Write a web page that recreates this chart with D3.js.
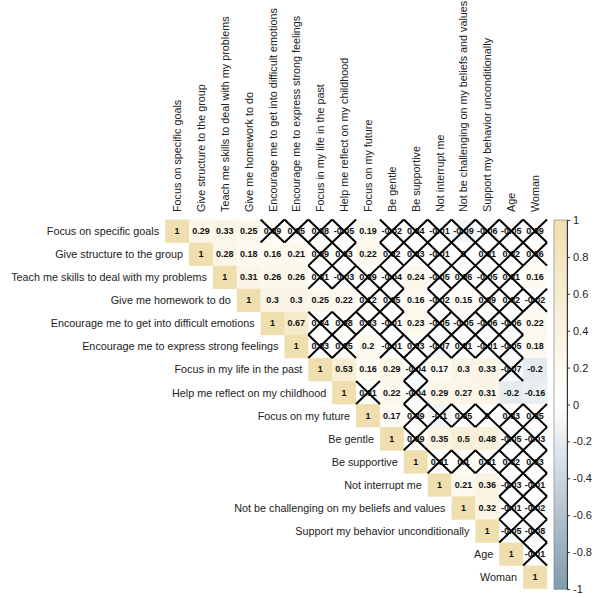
<!DOCTYPE html>
<html><head><meta charset="utf-8">
<script src="https://cdn.jsdelivr.net/npm/d3@7"></script>
<style>body{margin:0;background:#fff}svg{display:block}</style>
</head><body>
<svg id="chart" width="600" height="598"></svg>
<script>
const variables = ["Focus on specific goals","Give structure to the group","Teach me skills to deal with my problems","Give me homework to do","Encourage me to get into difficult emotions","Encourage me to express strong feelings","Focus in my life in the past","Help me reflect on my childhood","Focus on my future","Be gentle","Be supportive","Not interrupt me","Not be challenging on my beliefs and values","Support my behavior unconditionally","Age","Woman"];

// upper-triangle correlations, each row starts at the diagonal
const r0  = [1, 0.29, 0.33, 0.25, 0.09, 0.05, 0.08, -0.05, 0.19, -0.02, 0.04, -0.01, -0.09, -0.06, -0.05, 0.09];
const r1  = [1, 0.28, 0.18, 0.16, 0.21, 0.09, 0.03, 0.22, 0.02, 0.03, -0.01, 0, 0.01, 0.02, 0.06];
const r2  = [1, 0.31, 0.26, 0.26, 0.01, -0.03, 0.09, -0.04, 0.24, -0.05, 0.06, -0.05, 0.01, 0.16];
const r3  = [1, 0.3, 0.3, 0.25, 0.22, 0.12, 0.05, 0.16, -0.02, 0.15, 0.09, 0.02, -0.02];
const r4  = [1, 0.67, 0.04, 0.08, 0.03, -0.01, 0.23, -0.05, -0.05, -0.06, -0.06, 0.22];
const r5  = [1, 0.03, 0.05, 0.2, -0.01, 0.03, -0.07, 0.01, -0.01, -0.05, 0.18];
const r6  = [1, 0.53, 0.16, 0.29, -0.04, 0.17, 0.3, 0.33, -0.07, -0.2];
const r7  = [1, 0.01, 0.22, -0.04, 0.29, 0.27, 0.31, -0.2, -0.16];
const r8  = [1, 0.17, 0.09, -0.1, 0.05, 0, 0.03, 0.05];
const r9  = [1, 0.09, 0.35, 0.5, 0.48, -0.05, -0.03];
const r10 = [1, 0.01, 0.1, 0.01, 0.02, 0.03];
const r11 = [1, 0.21, 0.36, -0.03, -0.01];
const r12 = [1, 0.32, -0.01, -0.02];
const r13 = [1, -0.05, -0.08];
const r14 = [1, -0.01];
const r15 = [1];

// non-significant flags (1 = crossed out), same shape as rows above
const s0  = [0,0,0,0,1,1,1,1,0,1,1,1,1,1,1,1];
const s1  = [0,0,0,0,0,1,1,0,1,1,1,1,1,1,1];
const s2  = [0,0,0,0,1,1,1,1,0,1,1,1,1,0];
const s3  = [0,0,0,0,0,1,1,0,1,0,1,1,1];
const s4  = [0,0,1,1,1,1,0,1,1,1,1,0];
const s5  = [0,1,1,0,1,1,1,1,1,1,0];
const s6  = [0,0,0,0,1,0,0,0,1,0];
const s7  = [0,1,0,1,0,0,0,0,0];
const s8  = [0,0,1,1,1,1,1,1];
const s9  = [0,1,0,0,0,1,1];
const s10 = [0,1,1,1,1,1];
const s11 = [0,0,0,1,1];
const s12 = [0,0,1,1];
const s13 = [0,1,1];
const s14 = [0,1];
const s15 = [0];

const colorbarTicks = [1, 0.8, 0.6, 0.4, 0.2, 0, -0.2, -0.4, -0.6, -0.8, -1];

const rows = [r0,r1,r2,r3,r4,r5,r6,r7,r8,r9,r10,r11,r12,r13,r14,r15];
const sigs = [s0,s1,s2,s3,s4,s5,s6,s7,s8,s9,s10,s11,s12,s13,s14,s15];
const cells = [];
rows.forEach((row, i) => row.forEach((v, k) => {
  cells.push({row: variables[i], col: variables[i + k], value: v, ns: sigs[i][k] === 1});
}));

const svg = d3.select("#chart");
const x = d3.scaleBand().domain(variables).range([165.1, 547.0]).padding(0);
const y = d3.scaleBand().domain(variables).range([219.5, 588.6]).padding(0);
const color = d3.scaleLinear().domain([-1, 0, 1]).range(["#7d99ae", "#ffffff", "#f0dfae"]);

const font = "'Liberation Sans', Arial, sans-serif";

// cells
svg.append("g").selectAll("rect").data(cells).join("rect")
  .attr("x", d => x(d.col)).attr("y", d => y(d.row))
  .attr("width", x.bandwidth() + 0.3).attr("height", y.bandwidth() + 0.3)
  .attr("fill", d => color(d.value));

// numbers
svg.append("g").selectAll("text").data(cells).join("text")
  .attr("x", d => x(d.col) + x.bandwidth() / 2)
  .attr("y", d => y(d.row) + y.bandwidth() / 2)
  .attr("text-anchor", "middle").attr("dominant-baseline", "central")
  .attr("font-family", font).attr("font-size", 9).attr("font-weight", "bold")
  .attr("fill", "#111")
  .text(d => String(d.value));

// crosses
const ns = cells.filter(d => d.ns);
const cg = svg.append("g").attr("stroke", "#000").attr("stroke-width", 2).attr("stroke-linecap", "butt");
cg.selectAll("line.a").data(ns).join("line").attr("class", "a")
  .attr("x1", d => x(d.col)).attr("y1", d => y(d.row))
  .attr("x2", d => x(d.col) + x.bandwidth()).attr("y2", d => y(d.row) + y.bandwidth());
cg.selectAll("line.b").data(ns).join("line").attr("class", "b")
  .attr("x1", d => x(d.col) + x.bandwidth()).attr("y1", d => y(d.row))
  .attr("x2", d => x(d.col)).attr("y2", d => y(d.row) + y.bandwidth());

// row labels (left of diagonal)
svg.append("g").selectAll("text").data(variables).join("text")
  .attr("x", d => x(d) - 6)
  .attr("y", d => y(d) + y.bandwidth() / 2)
  .attr("text-anchor", "end").attr("dominant-baseline", "central")
  .attr("font-family", font).attr("font-size", 10.8).attr("fill", "#222")
  .text(d => d);

// column labels (rotated)
svg.append("g").selectAll("text").data(variables).join("text")
  .attr("transform", d => `translate(${x(d) + x.bandwidth() / 2},212) rotate(-90)`)
  .attr("text-anchor", "start").attr("dominant-baseline", "central")
  .attr("font-family", font).attr("font-size", 10.8).attr("fill", "#222")
  .text(d => d);

// colorbar
const cbY = d3.scaleLinear().domain([-1, 1]).range([589, 220]);
const cbX = 554, cbW = 13;
const steps = d3.range(-1, 1, 0.01);
svg.append("g").selectAll("rect").data(steps).join("rect")
  .attr("x", cbX).attr("width", cbW)
  .attr("y", d => cbY(d + 0.01)).attr("height", d => cbY(d) - cbY(d + 0.01) + 0.5)
  .attr("fill", d => color(d + 0.005));
svg.append("rect").attr("x", cbX).attr("y", cbY(1)).attr("width", cbW)
  .attr("height", cbY(-1) - cbY(1)).attr("fill", "none").attr("stroke", "#777").attr("stroke-width", 0.6);
const axis = d3.axisRight(cbY).tickValues(colorbarTicks).tickSize(3).tickFormat(d => String(d));
const ag = svg.append("g").attr("transform", `translate(${cbX + cbW},0)`).call(axis);
ag.select(".domain").attr("stroke", "#333");
ag.selectAll(".tick line").attr("stroke", "#333");
ag.selectAll("text").attr("font-family", font).attr("font-size", 11).attr("fill", "#222").attr("x", 6);
</script>
</body></html>
